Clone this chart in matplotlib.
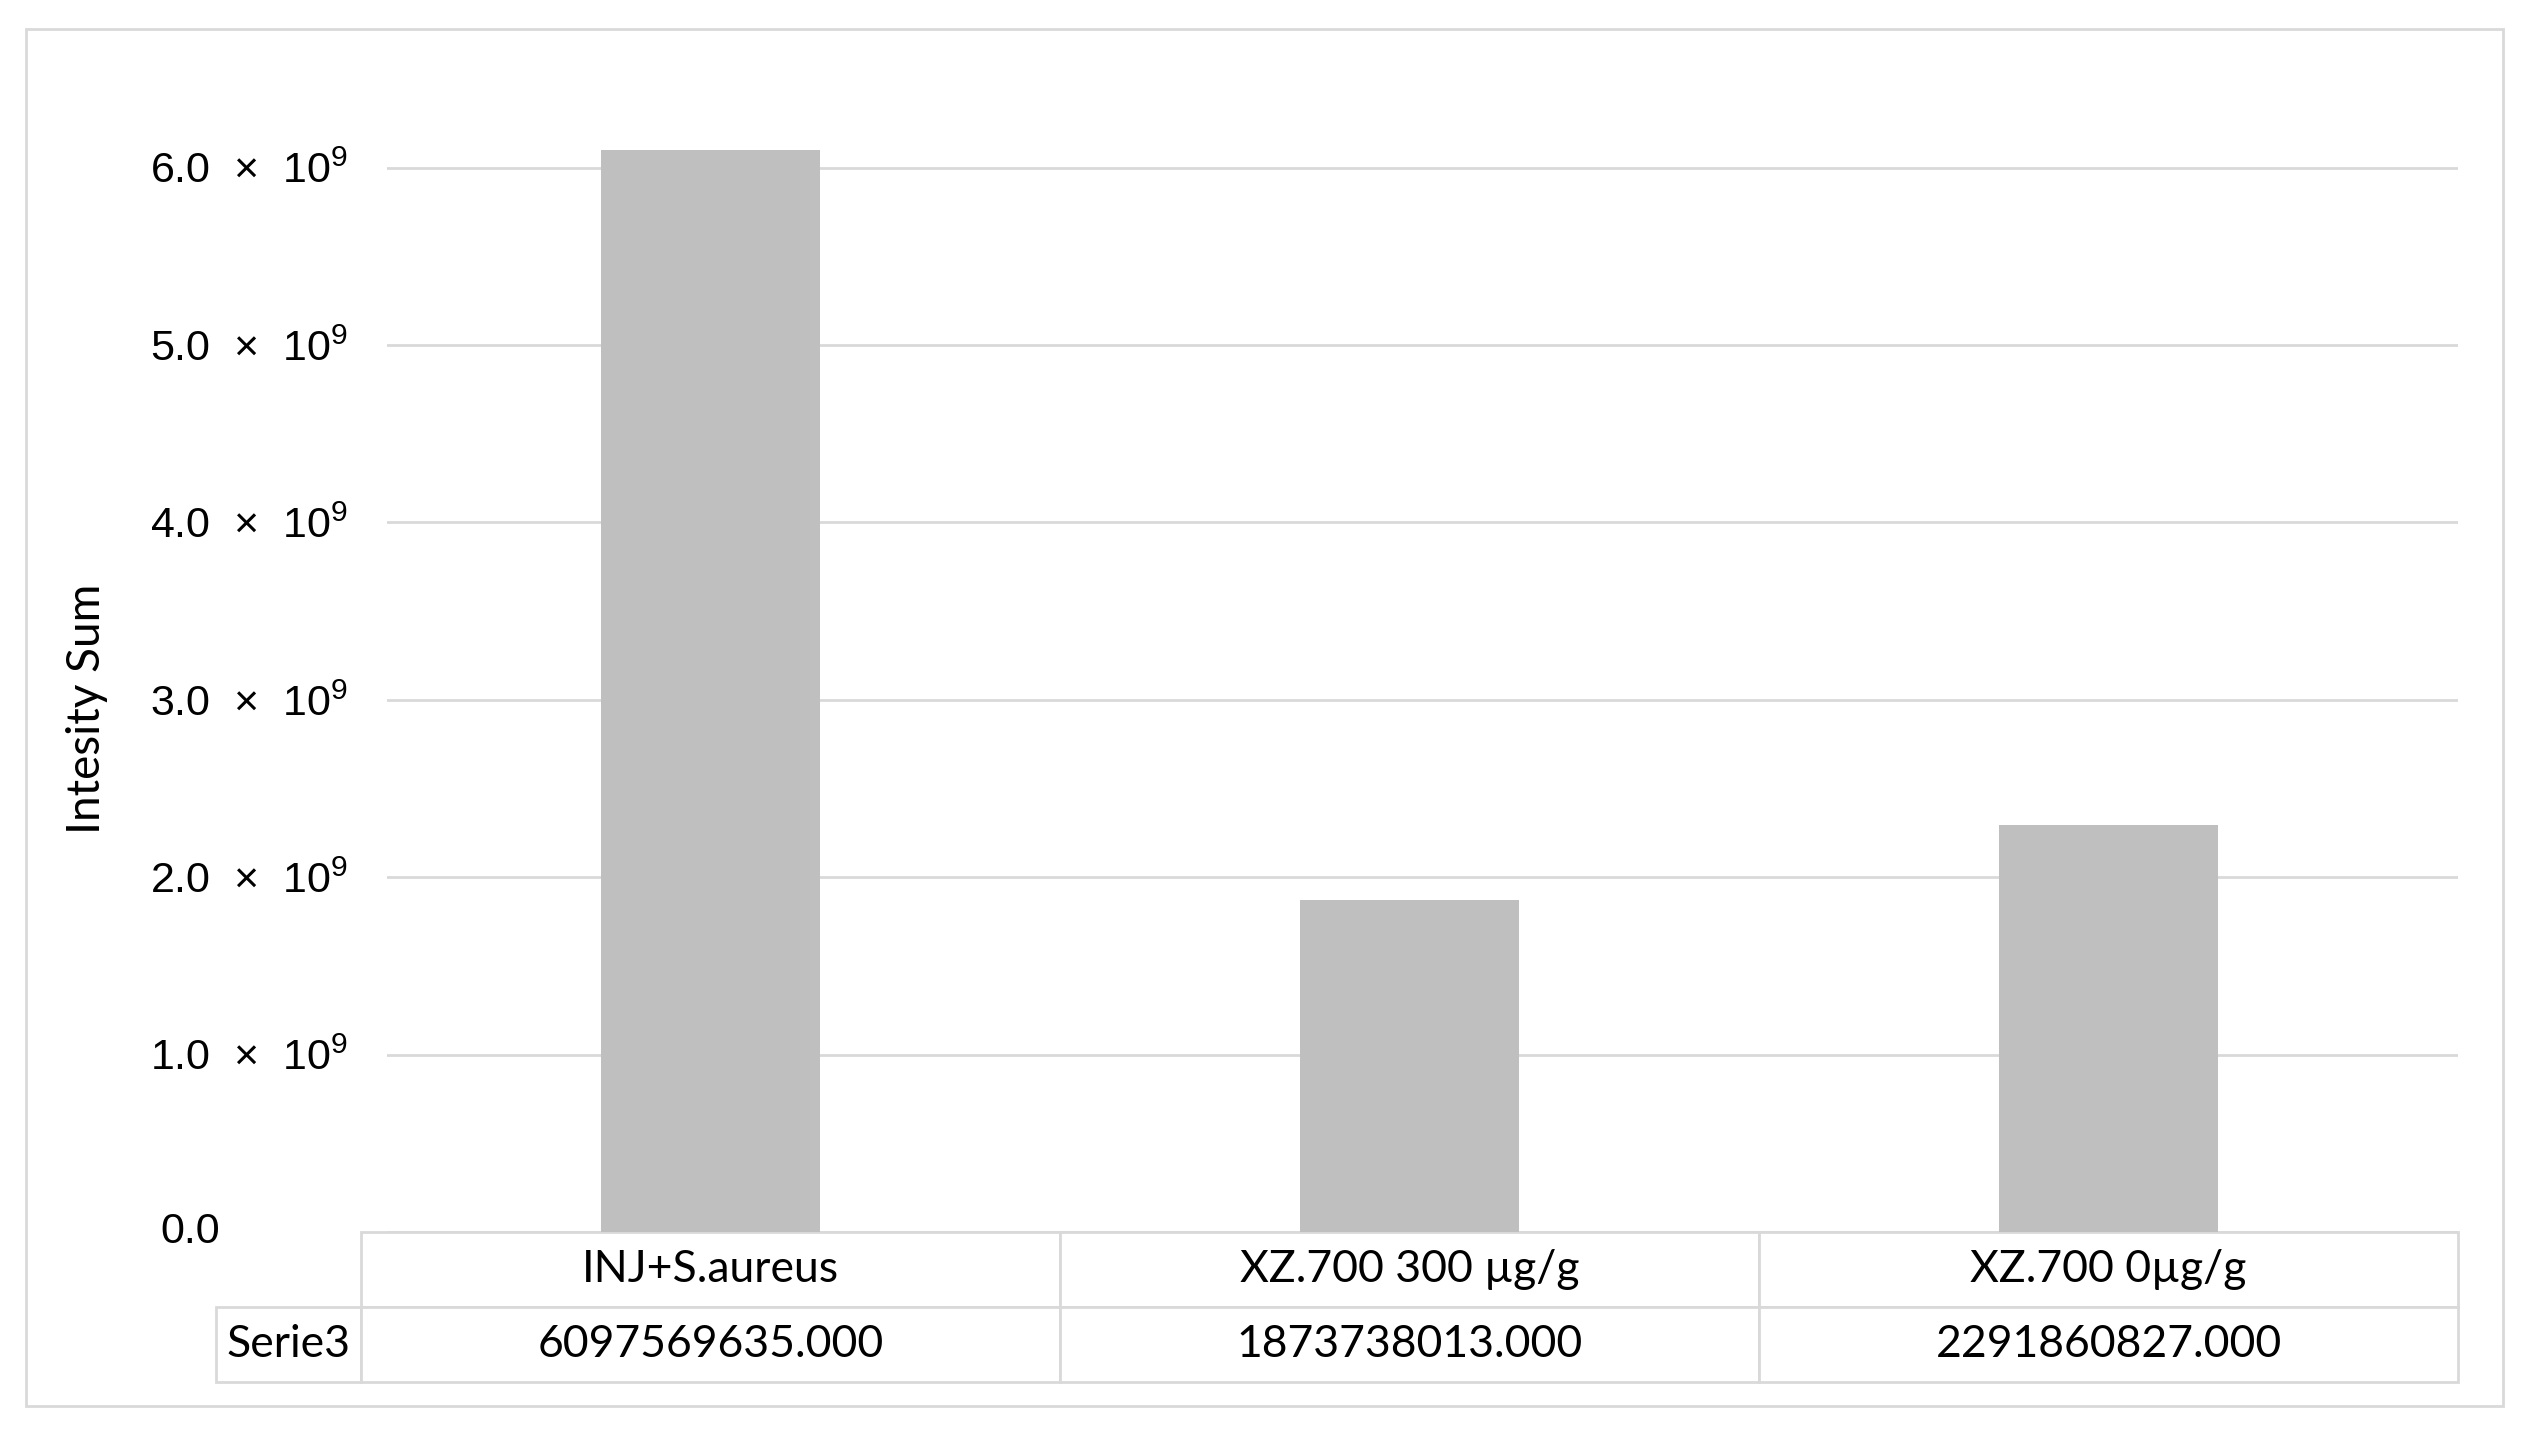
import matplotlib
matplotlib.use("Agg")
import matplotlib.pyplot as plt
from matplotlib.patches import Rectangle
from matplotlib.table import Table
from matplotlib.ticker import FixedLocator, FuncFormatter

categories = ["INJ+S.aureus", "XZ.700 300 µg/g", "XZ.700 0µg/g"]
series_name = "Serie3"
values = [6097569635, 1873738013, 2291860827]
y_ticks = [0, 1e9, 2e9, 3e9, 4e9, 5e9, 6e9]

plt.rcParams["font.family"] = ["Liberation Sans", "DejaVu Sans"]
plt.rcParams["mathtext.fontset"] = "custom"
plt.rcParams["mathtext.rm"] = "Liberation Sans"
plt.rcParams["mathtext.it"] = "Liberation Sans:italic"

table_font = ["Lato", "DejaVu Sans"]
grey = "#d9d9d9"

fig = plt.figure(figsize=(25.29, 14.32), dpi=100)

# outer chart frame
fig.patches.append(Rectangle((16 / 1568, 1 - 872 / 888), 1536 / 1568, 854 / 888,
                             transform=fig.transFigure, fill=False,
                             edgecolor=grey, linewidth=2))

ax = fig.add_axes([240 / 1568, 1 - 764 / 888, 1284 / 1568, 704 / 888])
x = range(len(categories))
ax.bar(x, values, width=0.312, color="#bfbfbf", zorder=3)

ax.set_xlim(-0.4627, 2.5)
ax.set_ylim(0, 6.4e9)
ax.yaxis.set_major_locator(FixedLocator(y_ticks))


def fmt(v, pos):
    if v == 0:
        return ""
    return "%.1f  \u00d7  10$^{9}$" % (v / 1e9)


ax.yaxis.set_major_formatter(FuncFormatter(fmt))
ax.tick_params(axis="y", length=0, pad=28, labelsize=31)
ax.tick_params(axis="x", length=0, labelbottom=False)
ax.grid(axis="y", color=grey, linewidth=2, zorder=0)
for s in ax.spines.values():
    s.set_visible(False)

# zero label sits left of the data table
ax.text(-0.0805, 0, "0.0", transform=ax.get_yaxis_transform(),
        ha="right", va="center", fontsize=31)

fig.text(0.0345, 0.505, "Intesity Sum", rotation=90, ha="center", va="center",
         fontsize=33, family=table_font)

# data table under the axis (sizes in axes units so the bbox scale stays 1)
tbl_x0 = -16 / 1284
tbl_w = 1300 / 1284
tbl_h = 93 / 704
col_w = tbl_w / len(categories)
label_w = 90 / 1284
row_h = tbl_h / 2
tbl = Table(ax, bbox=[tbl_x0, -tbl_h, tbl_w, tbl_h])
for c, name in enumerate(categories):
    tbl.add_cell(0, c, width=col_w, height=row_h, text=name, loc="center")
tbl.add_cell(1, -1, width=label_w, height=row_h, text=series_name, loc="center")
for c, v in enumerate(values):
    tbl.add_cell(1, c, width=col_w, height=row_h, text="%.3f" % v, loc="center")
tbl.auto_set_font_size(False)
for cell in tbl.get_celld().values():
    cell.set_edgecolor(grey)
    cell.set_linewidth(2)
    cell.get_text().set_fontsize(32)
    cell.get_text().set_fontfamily(table_font)
ax.add_table(tbl)

fig.savefig("out.png", dpi=100)
